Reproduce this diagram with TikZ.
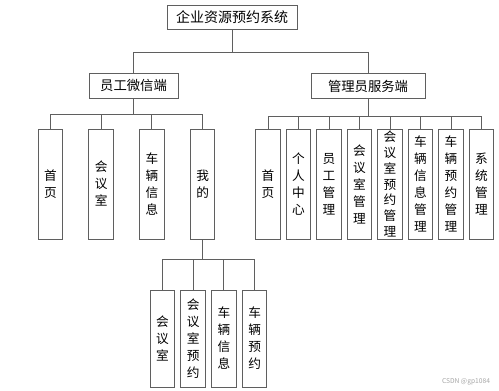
\documentclass[tikz,border=0pt]{standalone}
\usepackage{fontspec}
\setmainfont{Noto Sans CJK SC}
\usepackage{tikz}

\definecolor{boxline}{RGB}{95,95,95}
\tikzset{
  rootbox/.style={draw=boxline, line width=0.7pt, minimum width=97.5pt, minimum height=18pt, inner sep=0pt, font=\fontsize{10.5}{12}\selectfont},
  sidebox/.style={draw=boxline, line width=0.7pt, minimum height=18.75pt, inner sep=0pt, font=\fontsize{10}{12}\selectfont},
  leafbox/.style={draw=boxline, line width=0.7pt, minimum width=18.5pt, minimum height=82.5pt, inner sep=0pt, align=center, font=\fontsize{9.5}{12.75}\selectfont},
  subleaf/.style={leafbox, minimum height=72.75pt},
  link/.style={draw=boxline, line width=0.7pt}
}

\begin{document}
\begin{tikzpicture}[x=0.75pt,y=0.75pt,yscale=-1,xscale=1]
\useasboundingbox (0,0) rectangle (499,391);

% top level
\node[rootbox] (sys) at (232,17) {企业资源预约系统};
\node[sidebox, minimum width=66.75pt] (staff) at (133.5,85.5) {员工微信端};
\node[sidebox, minimum width=85.5pt] (admin) at (368,86) {管理员服务端};

\coordinate (sysbus) at (232,52);
\draw[link] (sys) -- (sysbus) -| (staff);
\draw[link] (sysbus) -| (admin);

% staff side
\foreach \txt [count=\i] in {{首\\页},{会\\议\\室},{车\\辆\\信\\息},{我\\的}}
  \node[leafbox] (s\i) at ({50.5+50.7*(\i-1)},184) {\txt};
\coordinate (staffbus) at (133.5,114);
\draw[link] (staff) -- (staffbus);
\foreach \i in {1,...,4} \draw[link] (staffbus) -| (s\i);

% admin side
\foreach \txt/\gap [count=\i] in {{首\\页}/12.75,{个\\人\\中\\心}/12.75,{员\\工\\管\\理}/12.75,{会\\议\\室\\管\\理}/12.75,{会\\议\\室\\预\\约\\管\\理}/11.9,{车\\辆\\信\\息\\管\\理}/12.75,{车\\辆\\预\\约\\管\\理}/12.75,{系\\统\\管\\理}/12.75}
  \node[leafbox, font=\fontsize{9.5}{\gap}\selectfont] (a\i) at ({268+30.5*(\i-1)},184) {\txt};
\coordinate (adminbus) at (368,116);
\draw[link] (admin) -- (adminbus);
\foreach \i in {1,...,8} \draw[link] (adminbus) -| (a\i);

% under "mine"
\foreach \txt [count=\i] in {{会\\议\\室},{会\\议\\室\\预\\约},{车\\辆\\信\\息},{车\\辆\\预\\约}}
  \node[subleaf] (m\i) at ({162.5+30.7*(\i-1)},338.5) {\txt};
\coordinate (minebus) at (202.5,259);
\draw[link] (s4) -- (minebus);
\foreach \i in {1,...,4} \draw[link] (minebus) -| (m\i);

\node[font=\fontsize{5}{6}\selectfont, text=black!35] (mark) at (466,382) {CSDN @gp1084};

\end{tikzpicture}
\end{document}
